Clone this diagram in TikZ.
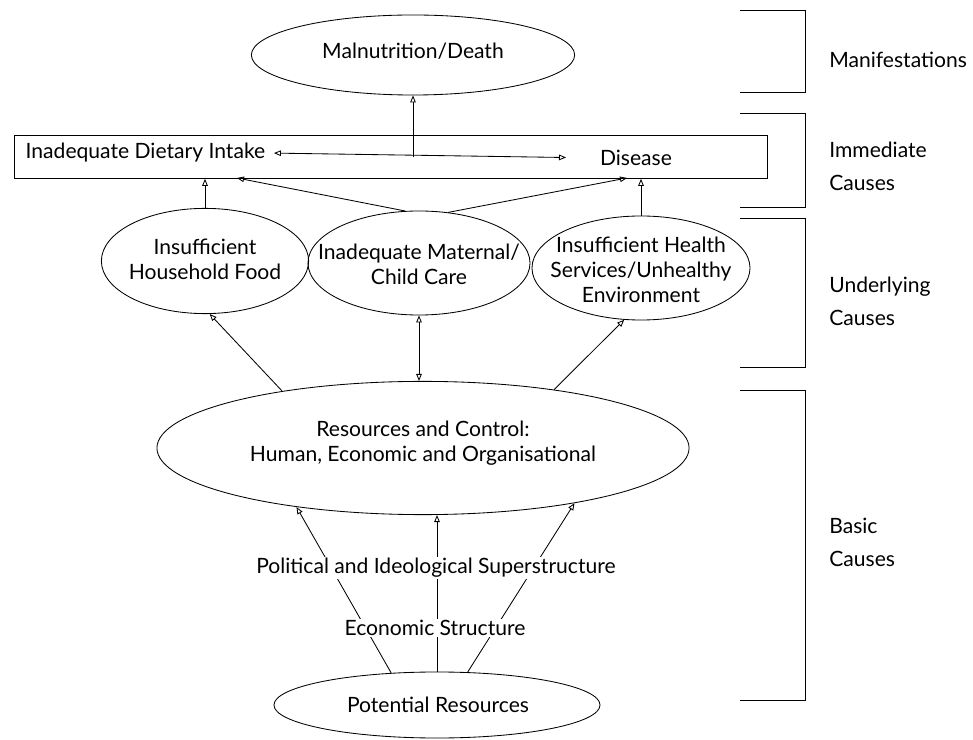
\documentclass[tikz,border=0pt]{standalone}
\usepackage{fontspec}
\setmainfont{Lato}
\usetikzlibrary{arrows.meta,positioning,shapes.geometric}

\begin{document}
\begin{tikzpicture}[x=0.025cm, y=-0.025cm,
        oval/.style={draw, ellipse, inner sep=0pt, line width=0.6pt},
        txt/.style={inner sep=1pt, align=center, font=\fontsize{15}{18}\selectfont},
        lbl/.style={anchor=west, align=left, inner sep=0pt, font=\fontsize{15}{18}\selectfont},
        arr/.style={-{Triangle[open,length=5pt,width=4pt]}, line width=0.6pt},
        darr/.style={{Triangle[open,length=5pt,width=4pt]}-{Triangle[open,length=5pt,width=4pt]}, line width=0.6pt},
        bracket/.style={line width=0.7pt}
      ]
        \useasboundingbox (0,0) rectangle (973,740);
        % manifestations
        \node[oval, minimum width=8.08cm, minimum height=2cm] (death) at (413,55) {};
        \node[txt] (deathtxt) at (413,51) {Malnutrition/Death};
        % immediate causes
        \node[draw, line width=0.6pt, minimum width=18.8cm, minimum height=1.07cm, inner sep=0pt] (immed) at (391,157) {};
        \node[txt, anchor=west] (intake) at (24,153) {Inadequate Dietary Intake};
        \node[txt] (disease) at (636,158) {Disease};
        \coordinate (hub) at (413,157);
        \draw[arr] (hub) -- (death);
        \draw[darr, shorten <=5pt, shorten >=23pt] (intake.east) -- (disease.west);
        % underlying causes
        \node[oval, minimum width=5.18cm, minimum height=2.63cm] (food) at (205,261) {};
        \node[txt] (foodtxt) at (205,259) {Insufficient\\Household Food};
        \node[oval, minimum width=5.55cm, minimum height=2.6cm] (care) at (419,263) {};
        \node[txt] (caretxt) at (419,264) {Inadequate Maternal/\\Child Care};
        \node[oval, minimum width=5.45cm, minimum height=2.6cm] (health) at (641,268) {};
        \node[txt] (healthtxt) at (641,270) {Insufficient Health\\Services/Unhealthy\\Environment};
        \coordinate (inl) at (237,178);
        \coordinate (inr) at (627,178);
        \draw[arr] (food.north) -- (food.north |- immed.south);
        \draw[arr] (health.north) -- (health.north |- immed.south);
        \draw[arr] (care.105) -- (inl);
        \draw[arr] (care.60) -- (inr);
        % basic causes
        \node[oval, minimum width=13.3cm, minimum height=3.33cm] (res) at (423,448) {};
        \node[txt] (restxt) at (423,443) {Resources and Control:\\Human, Economic and Organisational};
        \node[oval, minimum width=8.15cm, minimum height=1.65cm] (pot) at (437,705) {};
        \node[txt] (pottxt) at (438,705) {Potential Resources};
        \draw[arr] (res.158) -- (food.275);
        \draw[darr] (care.south) -- (care.south |- res.north);
        \draw[arr] (res.24) -- (health.252);
        \draw[arr] (pot.145) -- (res.205);
        \draw[arr] (pot.north) -- (pot.north |- res.south);
        \draw[arr] (pot.47) -- (res.340);
        \node[txt, fill=white] (polit) at (436,568) {Political and Ideological Superstructure};
        \node[txt, fill=white] (econ) at (435,628) {Economic Structure};
        % levels
        \foreach \t/\b in {10/92, 113/207, 218/367, 390/700}
          \draw[bracket] (740,\t) -- (805,\t) -- (805,\b) -- (740,\b);
        \node[lbl] (lman) at (829,60) {Manifestations};
        \node[lbl] (limm) at (829,166) {Immediate\\[5.5pt]Causes};
        \node[lbl] (lund) at (829,301) {Underlying\\[5.5pt]Causes};
        \node[lbl] (lbas) at (829,542) {Basic\\[5.5pt]Causes};
      \end{tikzpicture}
\end{document}
